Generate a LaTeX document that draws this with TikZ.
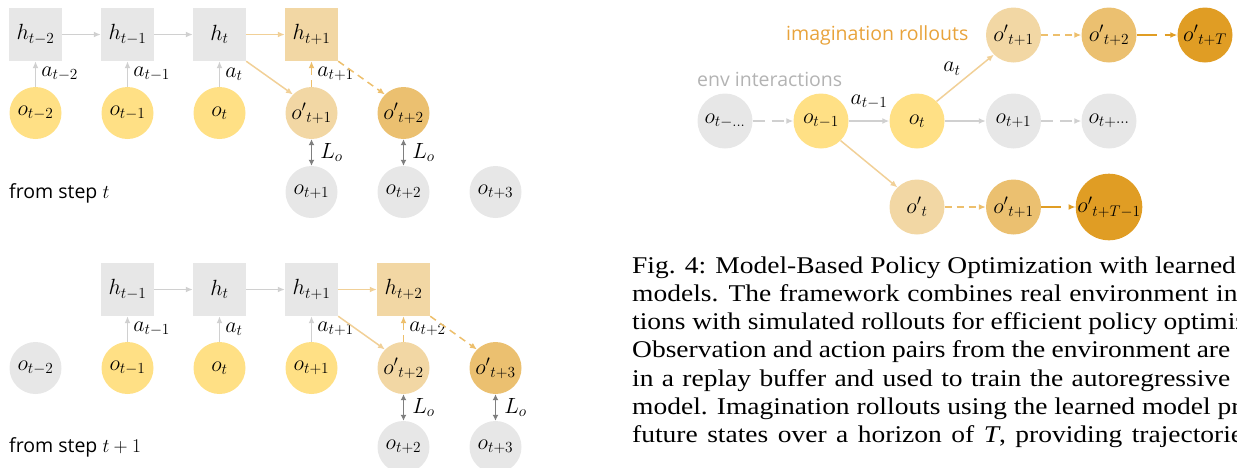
\RequirePackage{fix-cm}
\documentclass[tikz,border=0pt]{standalone}
\usepackage{fontspec}
\setmainfont{Liberation Serif}
\newfontfamily\sansf{Open Sans}
\usetikzlibrary{arrows.meta}
\definecolor{gfill}{HTML}{E7E7E7}
\definecolor{yfill}{HTML}{FFE085}
\definecolor{lofill}{HTML}{F2D7A4}
\definecolor{mofill}{HTML}{EBC070}
\definecolor{dofill}{HTML}{E09D24}
\definecolor{garrow}{HTML}{D0D0D0}
\definecolor{loarrow}{HTML}{F1D097}
\definecolor{moarrow}{HTML}{EDBF6C}
\definecolor{doarrow}{HTML}{E09D24}
\definecolor{darrow}{HTML}{7F7F7F}
\definecolor{imgtext}{HTML}{E8A33B}
\definecolor{envtext}{HTML}{B3B3B3}
\newcommand\labfont{\fontsize{22}{24}\selectfont}
\newcommand\capfont{\fontsize{24}{28}\selectfont}
\newcommand\sfont{\sansf\fontsize{19.5}{22}\selectfont}
\newcommand\capl[2]{\scalebox{1.145}[1]{\spaceskip=#1\relax #2}}
\tikzset{
  hbox/.style={rectangle, minimum size=53pt, inner sep=0pt, font=\labfont},
  obs/.style={circle, minimum size=52pt, inner sep=0pt, font=\labfont},
  robs/.style={circle, minimum size=55pt, inner sep=0pt, font=\labfont},
  lab/.style={font=\labfont, inner sep=2pt},
  alab/.style={lab, right, xshift=3pt},
  llab/.style={lab, right, xshift=6pt},
  tip/.style={-{Latex[length=7pt,width=6pt]}},
  garr/.style={tip, line width=1.5pt, draw=garrow},
  garrd/.style={garr, dash pattern=on 12pt off 7pt},
  loarr/.style={tip, line width=1.5pt, draw=loarrow},
  moarrd/.style={tip, line width=1.5pt, draw=moarrow, dash pattern=on 7pt off 5pt},
  doarrd/.style={tip, line width=1.5pt, draw=doarrow, dash pattern=on 20pt off 8pt},
  darr/.style={{Latex[length=6pt,width=6pt]}-{Latex[length=6pt,width=6pt]}, line width=1.5pt, draw=darrow},
  capline/.style={anchor=base west, font=\capfont, inner sep=0pt},
}
\begin{document}
\begin{tikzpicture}[x=1pt,y=-1pt]
\useasboundingbox (0,0) rectangle (1237,467);
\clip (0,0) rectangle (1237,467);
% ---------------- top left: from step t
\node[hbox, fill=gfill] (ah1) at (35.5,34.5) {$h_{t-2}$};
\node[hbox, fill=gfill] (ah2) at (127.5,34.5) {$h_{t-1}$};
\node[hbox, fill=gfill] (ah3) at (219.5,34.5) {$h_{t}$};
\node[hbox, fill=lofill] (ah4) at (311.5,34.5) {$h_{t+1}$};
\node[obs, fill=yfill] (ao1) at (35.5,113) {$o_{t-2}$};
\node[obs, fill=yfill] (ao2) at (127.5,113) {$o_{t-1}$};
\node[obs, fill=yfill] (ao3) at (219.5,113) {$o_{t}$};
\node[obs, fill=lofill] (ap4) at (311.5,113) {${o'}_{t+1}$};
\node[obs, fill=mofill] (ap5) at (403.5,113) {${o'}_{t+2}$};
\node[obs, fill=gfill] (ag4) at (311.5,192) {$o_{t+1}$};
\node[obs, fill=gfill] (ag5) at (403.5,192) {$o_{t+2}$};
\node[obs, fill=gfill] (ag6) at (495.5,192) {$o_{t+3}$};
\node[anchor=west, font=\sfont, inner sep=0pt] (astep) at (9,193) {from step $t$};
\draw[garr] (ah1) -- (ah2);
\draw[garr] (ah2) -- (ah3);
\draw[loarr] (ah3) -- (ah4);
\draw[garr] (ao1) -- node[alab] {$a_{t-2}$} (ah1);
\draw[garr] (ao2) -- node[alab] {$a_{t-1}$} (ah2);
\draw[garr] (ao3) -- node[alab] {$a_{t}$} (ah3);
\draw[moarrd] (ap4) -- node[alab] {$a_{t+1}$} (ah4);
\draw[loarr] (ah3.south east) -- (ap4.north west);
\draw[moarrd] (ah4.south east) -- (ap5.north west);
\draw[darr] (ap4) -- node[llab] {$L_o$} (ag4);
\draw[darr] (ap5) -- node[llab] {$L_o$} (ag5);
% ---------------- bottom left: from step t+1
\node[hbox, fill=gfill] (bh2) at (127.5,289.5) {$h_{t-1}$};
\node[hbox, fill=gfill] (bh3) at (219.5,289.5) {$h_{t}$};
\node[hbox, fill=gfill] (bh4) at (311.5,289.5) {$h_{t+1}$};
\node[hbox, fill=lofill] (bh5) at (403.5,289.5) {$h_{t+2}$};
\node[obs, fill=gfill] (bo1) at (35.5,368) {$o_{t-2}$};
\node[obs, fill=yfill] (bo2) at (127.5,368) {$o_{t-1}$};
\node[obs, fill=yfill] (bo3) at (219.5,368) {$o_{t}$};
\node[obs, fill=yfill] (bo4) at (311.5,368) {$o_{t+1}$};
\node[obs, fill=lofill] (bp5) at (403.5,368) {${o'}_{t+2}$};
\node[obs, fill=mofill] (bp6) at (495.5,368) {${o'}_{t+3}$};
\node[obs, fill=gfill] (bg5) at (403.5,447) {$o_{t+2}$};
\node[obs, fill=gfill] (bg6) at (495.5,447) {$o_{t+3}$};
\node[anchor=west, font=\sfont, inner sep=0pt] (bstep) at (9,447) {from step $t+1$};
\draw[garr] (bh2) -- (bh3);
\draw[garr] (bh3) -- (bh4);
\draw[loarr] (bh4) -- (bh5);
\draw[garr] (bo2) -- node[alab] {$a_{t-1}$} (bh2);
\draw[garr] (bo3) -- node[alab] {$a_{t}$} (bh3);
\draw[garr] (bo4) -- node[alab] {$a_{t+1}$} (bh4);
\draw[moarrd] (bp5) -- node[alab] {$a_{t+2}$} (bh5);
\draw[loarr] (bh4.south east) -- (bp5.north west);
\draw[moarrd] (bh5.south east) -- (bp6.north west);
\draw[darr] (bp5) -- node[llab] {$L_o$} (bg5);
\draw[darr] (bp6) -- node[llab] {$L_o$} (bg6);
% ---------------- right diagram
\node[robs, fill=gfill] (r0) at (725,121) {$o_{t-\ldots}$};
\node[robs, fill=yfill] (r1) at (821,121) {$o_{t-1}$};
\node[robs, fill=yfill] (r2) at (917,121) {$o_{t}$};
\node[robs, fill=gfill] (r3) at (1013.5,121) {$o_{t+1}$};
\node[robs, fill=gfill] (r4) at (1109,121) {$o_{t+\cdots}$};
\node[robs, fill=lofill] (u1) at (1013.5,35) {${o'}_{t+1}$};
\node[robs, fill=mofill] (u2) at (1109,35) {${o'}_{t+2}$};
\node[robs, fill=dofill] (u3) at (1205,35) {${o'}_{t+T}$};
\node[robs, fill=lofill] (d0) at (917,207) {${o'}_{t}$};
\node[robs, fill=mofill] (d1) at (1013.5,207) {${o'}_{t+1}$};
\node[robs, fill=dofill] (d2) at (1109,207) {${o'}_{t+T-1}$};
\node[font=\sfont, text=envtext, anchor=west, inner sep=0pt] (envl) at (697,79) {env interactions};
\node[font=\sfont, text=imgtext, anchor=west, inner sep=0pt] (imgl) at (786,35) {imagination rollouts};
\draw[garrd] (r0) -- (r1);
\draw[garr] (r1) -- node[lab, above=9pt] {$a_{t-1}$} (r2);
\draw[garr] (r2) -- (r3);
\draw[garrd] (r3) -- (r4);
\draw[loarr] (r2.north east) -- node[lab, above left, xshift=-2pt] {$a_{t}$} (u1.south west);
\draw[loarr] (r1.south east) -- (d0.north west);
\draw[moarrd] (u1) -- (u2);
\draw[doarrd] (u2) -- (u3);
\draw[moarrd] (d0) -- (d1);
\draw[doarrd] (d1) -- (d2);
% ---------------- caption
\node[capline] (c1) at (632,273) {\capl{6pt}{Fig. 4: Model-Based Policy Optimization with learned world}};
\node[capline] (c2) at (632,301.3) {\capl{6.8pt}{models. The framework combines real environment interac-}};
\node[capline] (c3) at (632,329.6) {\capl{5.8pt}{tions with simulated rollouts for efficient policy optimization.}};
\node[capline] (c4) at (632,357.9) {\capl{5.5pt}{Observation and action pairs from the environment are stored}};
\node[capline] (c5) at (632,386.2) {\capl{7.3pt}{in a replay buffer and used to train the autoregressive world}};
\node[capline] (c6) at (632,414.5) {\capl{6pt}{model. Imagination rollouts using the learned model predict}};
\node[capline] (c7) at (632,442.8) {\capl{8.3pt}{future states over a horizon of \textit{T}, providing trajectories}};
\end{tikzpicture}
\end{document}
